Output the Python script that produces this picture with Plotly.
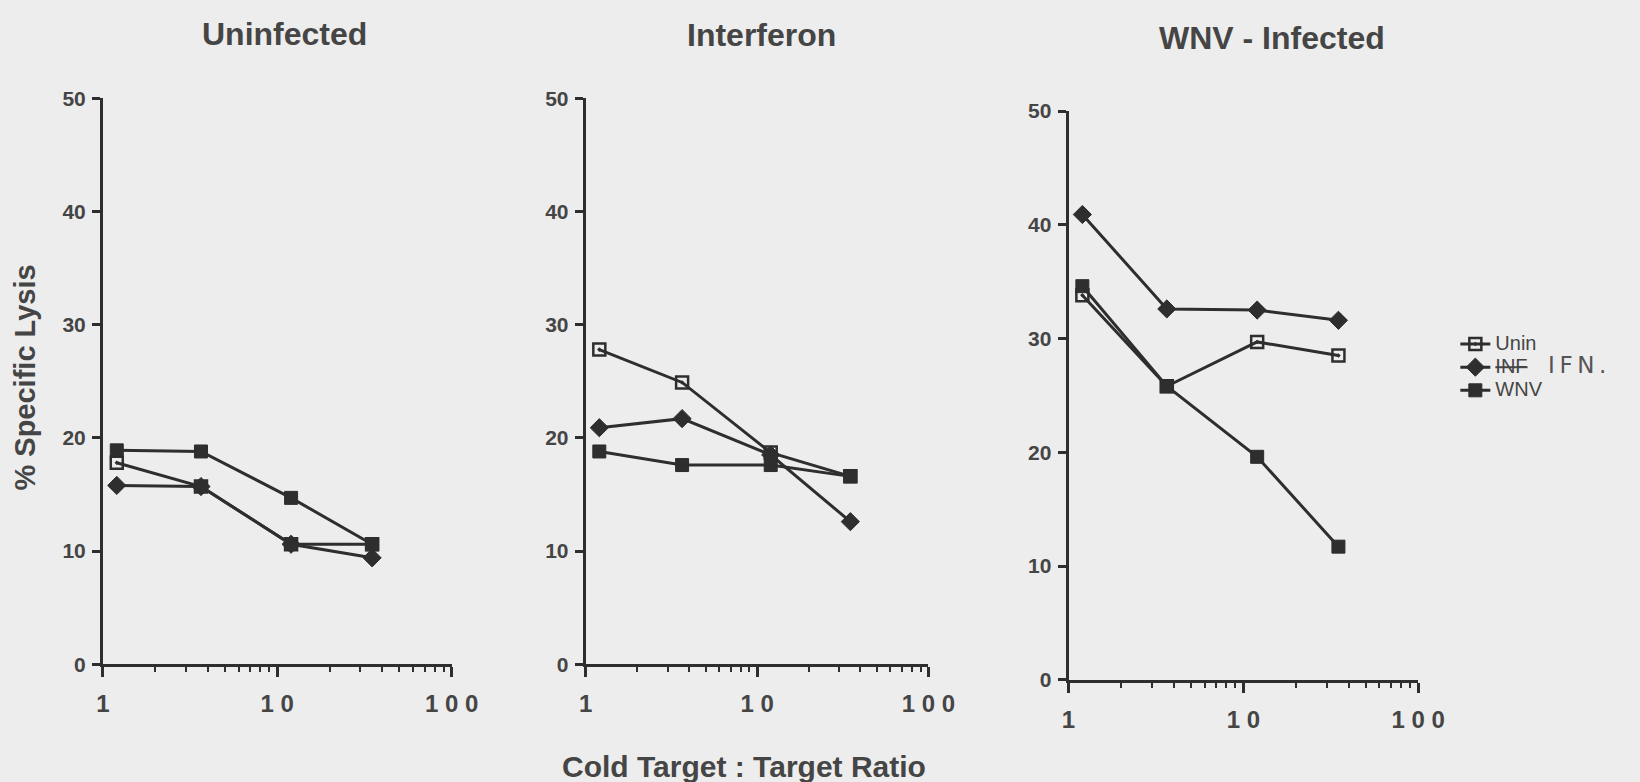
import plotly.graph_objects as go

# ---- data ----
ratios = [1.2, 3.65, 12, 35]
series_names = ["Unin", "<s>INF</s>", "WNV"]
panel_titles = ["Uninfected", "Interferon", "WNV - Infected"]

uninf_unin = [17.8, 15.7, 10.6, 10.6]
uninf_inf = [15.8, 15.7, 10.6, 9.4]
uninf_wnv = [18.9, 18.8, 14.7, 10.6]

ifn_unin = [27.8, 24.9, 18.7, 16.6]
ifn_inf = [20.9, 21.7, 18.5, 12.6]
ifn_wnv = [18.8, 17.6, 17.6, 16.6]

wnv_unin = [33.8, 25.8, 29.7, 28.5]
wnv_inf = [40.9, 32.6, 32.5, 31.6]
wnv_wnv = [34.6, 25.8, 19.6, 11.7]

y_ticks = [0, 10, 20, 30, 40, 50]
x_ticks = [1, 10, 100]
x_tick_text = ["1", "1 0", "1 0 0"]
x_minor = [2, 3, 4, 5, 6, 7, 8, 9, 20, 30, 40, 50, 60, 70, 80, 90]

panels = [
    (uninf_unin, uninf_inf, uninf_wnv),
    (ifn_unin, ifn_inf, ifn_wnv),
    (wnv_unin, wnv_inf, wnv_wnv),
]

# ---- style ----
W, H = 1640, 782
BG = "#ededed"
INK = "#2e2e2e"
TXT = "#454545"
FONT = "Liberation Sans, Arial, sans-serif"

x_dom = [(98, 454), (591, 941), (1084, 1441)]
y_dom = [(89, 672), (89, 672), (102, 688)]

marker_styles = [
    dict(symbol="square-open-dot", size=12, color=INK, line=dict(width=2.5, color=INK)),
    dict(symbol="diamond", size=14, color=INK, line=dict(width=1, color=INK)),
    dict(symbol="square", size=13, color=INK, line=dict(width=1, color=INK)),
]

fig = go.Figure()

for p, vals in enumerate(panels):
    xa = "x" if p == 0 else f"x{p+1}"
    ya = "y" if p == 0 else f"y{p+1}"
    for s, v in enumerate(vals):
        fig.add_trace(go.Scatter(
            x=ratios, y=v, mode="lines+markers",
            name=f'<span style="font-size:20px">{series_names[s]}</span>',
            line=dict(color=INK, width=3),
            marker=marker_styles[s],
            cliponaxis=False,
            showlegend=(p == 0),
            xaxis=xa, yaxis=ya,
        ))

layout = dict(
    width=W, height=H,
    margin=dict(l=0, r=0, t=0, b=0),
    paper_bgcolor=BG, plot_bgcolor=BG,
    font=dict(family=FONT, color=TXT),
    showlegend=True,
    legend=dict(
        x=1479 / W, y=1 - 325 / H, xanchor="left", yanchor="top",
        bgcolor="rgba(0,0,0,0)", borderwidth=0,
        font=dict(size=15.5, color=TXT, family=FONT),
        itemwidth=30, tracegroupgap=0,
    ),
)

for p in range(3):
    xk = "xaxis" if p == 0 else f"xaxis{p+1}"
    yk = "yaxis" if p == 0 else f"yaxis{p+1}"
    ya_ref = "y" if p == 0 else f"y{p+1}"
    xa_ref = "x" if p == 0 else f"x{p+1}"
    x0, x1 = x_dom[p]
    yt, yb = y_dom[p]
    layout[xk] = dict(
        type="log", range=[0, 2], domain=[x0 / W, x1 / W], anchor=ya_ref,
        showgrid=False, zeroline=False, showline=True, linewidth=3, linecolor=INK,
        ticks="outside", ticklen=10, tickwidth=2.5, tickcolor=INK,
        tickmode="array", tickvals=x_ticks, ticktext=x_tick_text,
        tickfont=dict(size=24, color=TXT, family=FONT, weight="bold"),
        ticklabelstandoff=6,
        minor=dict(tickmode="array", tickvals=x_minor, ticks="outside",
                   ticklen=5, tickwidth=2, tickcolor=INK, showgrid=False),
    )
    layout[yk] = dict(
        range=[0, 50], domain=[1 - yb / H, 1 - yt / H], anchor=xa_ref,
        showgrid=False, zeroline=False, showline=True, linewidth=3, linecolor=INK,
        ticks="outside", ticklen=8, tickwidth=2.5, tickcolor=INK,
        tickmode="array", tickvals=y_ticks,
        tickfont=dict(size=21, color=TXT, family=FONT, weight="bold"),
        ticklabelstandoff=2,
    )

fig.update_layout(**layout)

title_pos = [(283, 23), (770, 24), (1292, 27)]
for (tx, ty), t in zip(title_pos, panel_titles):
    fig.add_annotation(x=tx / W, y=1 - ty / H, xref="paper", yref="paper",
                       text=f"<b>{t}</b>", showarrow=False,
                       font=dict(size=32, color=TXT, family=FONT),
                       xanchor="center", yanchor="middle")

fig.add_annotation(x=753 / W, y=1 - 777 / H, xref="paper", yref="paper",
                   text="<b>Cold Target : Target Ratio</b>", showarrow=False,
                   font=dict(size=30, color=TXT, family=FONT),
                   xanchor="center", yanchor="middle")
fig.add_annotation(x=18 / W, y=1 - 377 / H, xref="paper", yref="paper",
                   text="<b>% Specific Lysis</b>", showarrow=False, textangle=-90,
                   font=dict(size=29, color=TXT, family=FONT),
                   xanchor="center", yanchor="middle")
fig.add_annotation(x=1572 / W, y=1 - 364 / H, xref="paper", yref="paper",
                   text="I\u2009F\u2009N\u2009.", showarrow=False,
                   font=dict(size=23, color="#555555", family="DejaVu Sans"),
                   xanchor="left", yanchor="middle")

fig.write_html("out.html")
